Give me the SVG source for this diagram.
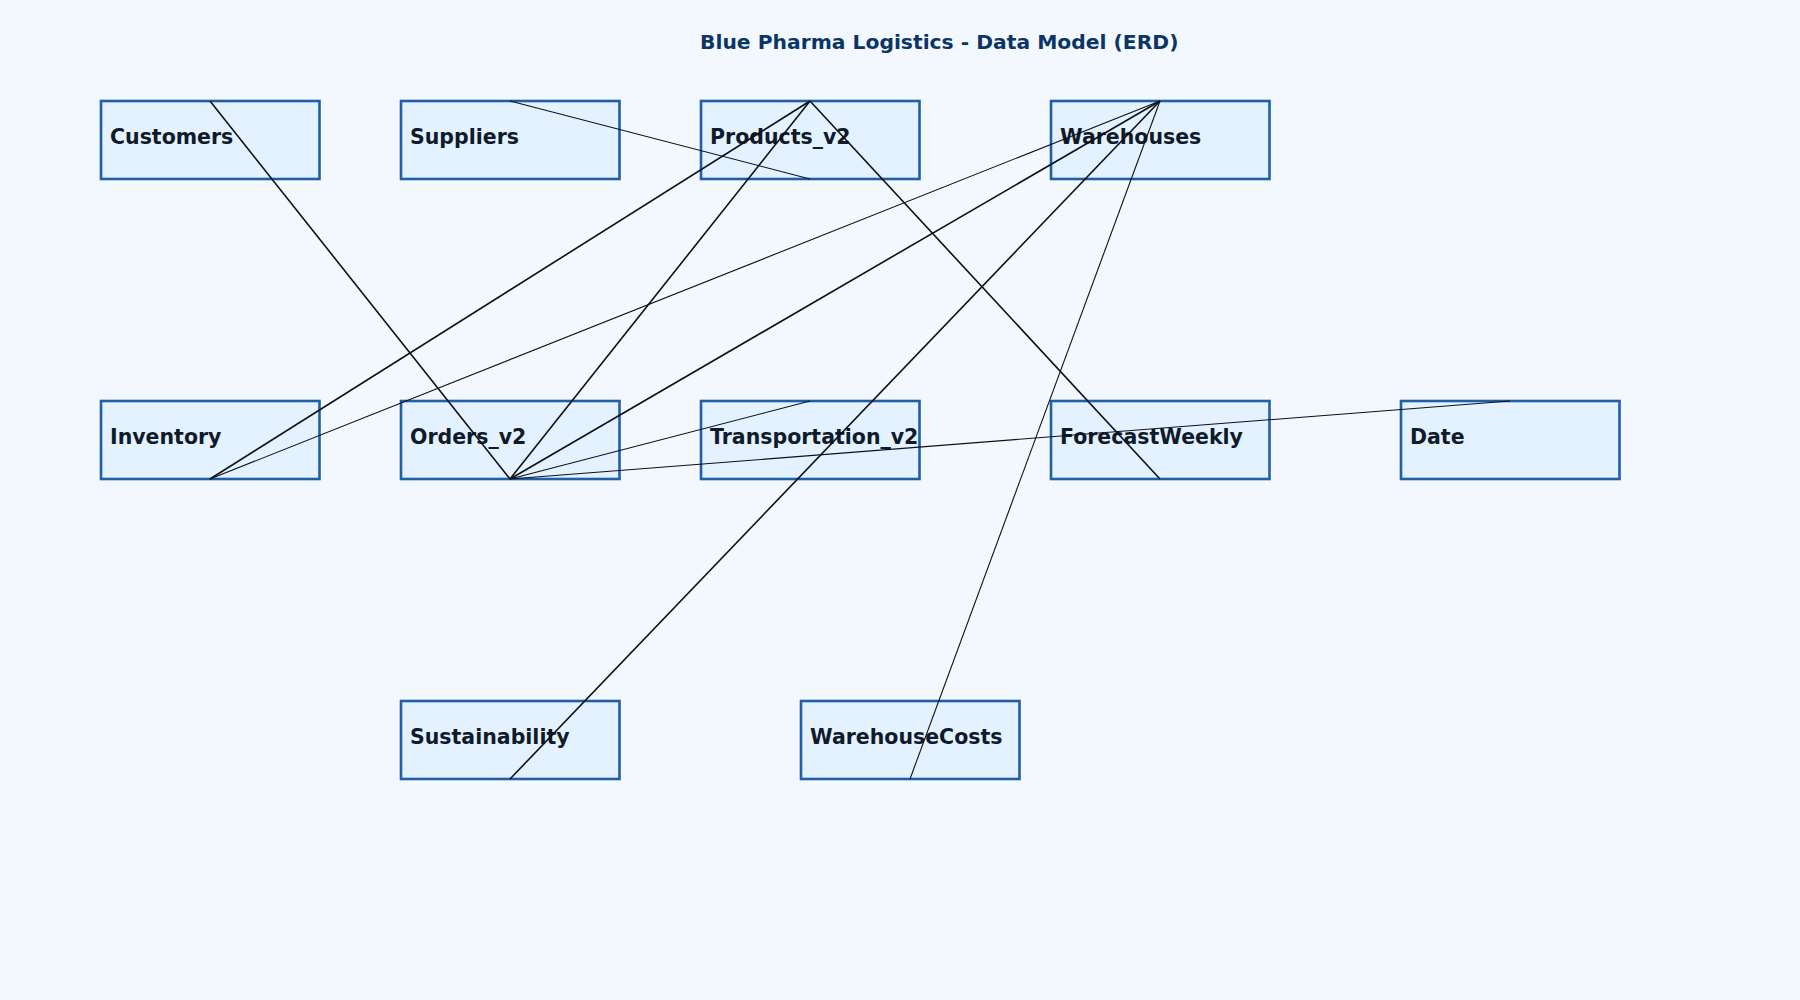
<svg xmlns="http://www.w3.org/2000/svg" width="1800" height="1000" viewBox="0 0 1800 1000">
<style>
.bg{fill:#f3f8fe}
.box{fill:#e4f1fe;stroke:#1f5fa6;stroke-width:2.6}
.lbl{font-family:"DejaVu Sans",sans-serif;font-weight:bold;font-size:20.5px;fill:#0f1a2a}
.title{font-family:"DejaVu Sans",sans-serif;font-weight:bold;font-size:20.3px;fill:#0b3567}
.c{stroke:#0d1117;fill:none;stroke-width:1.6}
.t{stroke:#0d1117;fill:none;stroke-width:1.1}
</style>
<rect class="bg" x="0" y="0" width="1800" height="1000"/>
<text class="title" x="700" y="49">Blue Pharma Logistics - Data Model (ERD)</text>
<g id="nodes">
<g id="customers"><rect class="box" x="101" y="101" width="218.5" height="78"/><text class="lbl" x="110" y="144">Customers</text></g>
<g id="suppliers"><rect class="box" x="401" y="101" width="218.5" height="78"/><text class="lbl" x="410" y="144">Suppliers</text></g>
<g id="products_v2"><rect class="box" x="701" y="101" width="218.5" height="78"/><text class="lbl" x="710" y="144">Products_v2</text></g>
<g id="warehouses"><rect class="box" x="1051" y="101" width="218.5" height="78"/><text class="lbl" x="1060" y="144">Warehouses</text></g>
<g id="inventory"><rect class="box" x="101" y="401" width="218.5" height="78"/><text class="lbl" x="110" y="444">Inventory</text></g>
<g id="orders_v2"><rect class="box" x="401" y="401" width="218.5" height="78"/><text class="lbl" x="410" y="444">Orders_v2</text></g>
<g id="transportation_v2"><rect class="box" x="701" y="401" width="218.5" height="78"/><text class="lbl" x="710" y="444">Transportation_v2</text></g>
<g id="forecastweekly"><rect class="box" x="1051" y="401" width="218.5" height="78"/><text class="lbl" x="1060" y="444">ForecastWeekly</text></g>
<g id="date"><rect class="box" x="1401" y="401" width="218.5" height="78"/><text class="lbl" x="1410" y="444">Date</text></g>
<g id="sustainability"><rect class="box" x="401" y="701" width="218.5" height="78"/><text class="lbl" x="410" y="744">Sustainability</text></g>
<g id="warehousecosts"><rect class="box" x="801" y="701" width="218.5" height="78"/><text class="lbl" x="810" y="744">WarehouseCosts</text></g>
</g>
<g id="connectors">
<line class="c" x1="210" y1="101" x2="510" y2="479"/>
<line class="t" x1="510" y1="101" x2="810" y2="179"/>
<line class="c" x1="810" y1="101" x2="210" y2="479"/>
<line class="c" x1="810" y1="101" x2="510" y2="479"/>
<line class="c" x1="810" y1="101" x2="1160" y2="479"/>
<line class="t" x1="1160" y1="101" x2="210" y2="479"/>
<line class="c" x1="1160" y1="101" x2="510" y2="479"/>
<line class="c" x1="1160" y1="101" x2="510" y2="779"/>
<line class="t" x1="1160" y1="101" x2="910" y2="779"/>
<line class="t" x1="510" y1="479" x2="810" y2="401"/>
<line class="t" x1="510" y1="479" x2="1510" y2="401"/>
</g>
</svg>
